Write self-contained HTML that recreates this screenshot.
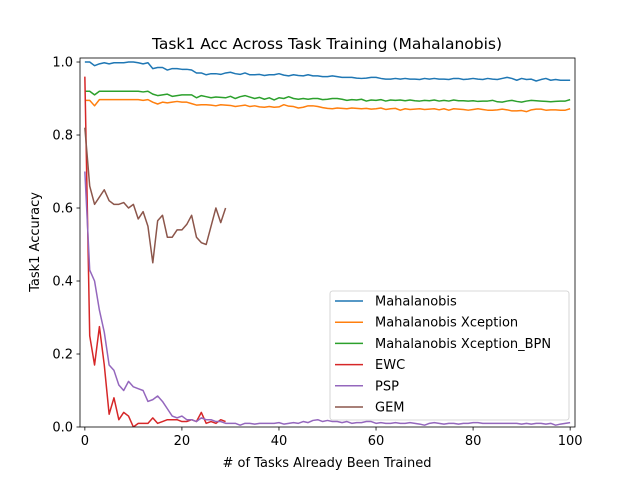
<!DOCTYPE html>
<html><head><meta charset="utf-8"><style>body{margin:0;background:#fff}svg text{font-family:"DejaVu Sans","Liberation Sans",sans-serif}</style></head><body>
<svg id="c" width="640" height="480"></svg>
<script>
const mahal=[1.0,1.0,0.99,0.995,0.998,0.995,0.998,0.998,0.998,1.0,1.0,0.998,0.995,0.998,0.982,0.985,0.985,0.978,0.982,0.982,0.98,0.98,0.978,0.97,0.97,0.965,0.968,0.968,0.966,0.97,0.972,0.968,0.966,0.97,0.965,0.965,0.966,0.963,0.965,0.965,0.968,0.964,0.962,0.965,0.963,0.962,0.965,0.962,0.962,0.96,0.96,0.962,0.96,0.958,0.958,0.958,0.956,0.955,0.956,0.958,0.958,0.955,0.953,0.953,0.955,0.953,0.955,0.953,0.953,0.952,0.955,0.953,0.955,0.953,0.953,0.952,0.955,0.955,0.952,0.953,0.955,0.953,0.952,0.955,0.953,0.952,0.955,0.958,0.955,0.95,0.955,0.952,0.953,0.948,0.952,0.955,0.95,0.952,0.95,0.95,0.95];
const xcep=[0.895,0.895,0.88,0.897,0.897,0.897,0.897,0.897,0.897,0.897,0.897,0.897,0.895,0.897,0.89,0.885,0.89,0.888,0.89,0.892,0.89,0.89,0.886,0.882,0.883,0.883,0.882,0.88,0.883,0.882,0.881,0.878,0.88,0.882,0.878,0.88,0.877,0.876,0.878,0.876,0.877,0.883,0.879,0.878,0.874,0.876,0.88,0.88,0.878,0.875,0.873,0.872,0.874,0.873,0.872,0.874,0.873,0.872,0.873,0.871,0.872,0.874,0.87,0.872,0.873,0.868,0.872,0.87,0.871,0.872,0.87,0.871,0.872,0.869,0.872,0.868,0.872,0.871,0.87,0.868,0.87,0.872,0.87,0.868,0.868,0.869,0.871,0.869,0.866,0.866,0.867,0.864,0.869,0.871,0.871,0.868,0.869,0.869,0.868,0.868,0.872];
const bpn=[0.92,0.92,0.91,0.92,0.92,0.92,0.92,0.92,0.92,0.92,0.92,0.92,0.918,0.92,0.912,0.908,0.91,0.912,0.906,0.908,0.91,0.91,0.91,0.902,0.908,0.905,0.902,0.904,0.903,0.902,0.906,0.9,0.905,0.908,0.904,0.9,0.903,0.898,0.902,0.896,0.902,0.9,0.905,0.9,0.898,0.9,0.898,0.9,0.9,0.897,0.898,0.9,0.9,0.898,0.895,0.897,0.896,0.898,0.893,0.896,0.895,0.897,0.893,0.896,0.895,0.896,0.894,0.896,0.894,0.893,0.895,0.894,0.896,0.893,0.895,0.893,0.896,0.894,0.894,0.893,0.894,0.892,0.893,0.893,0.895,0.891,0.89,0.893,0.895,0.892,0.89,0.893,0.895,0.894,0.893,0.892,0.891,0.892,0.893,0.893,0.897];
const ewc=[0.96,0.25,0.17,0.275,0.17,0.035,0.08,0.02,0.04,0.03,0.0,0.01,0.01,0.01,0.025,0.01,0.015,0.02,0.02,0.02,0.015,0.015,0.02,0.015,0.04,0.01,0.015,0.01,0.02,0.015];
const psp=[0.7,0.43,0.4,0.32,0.26,0.17,0.155,0.115,0.1,0.125,0.11,0.105,0.1,0.07,0.075,0.085,0.07,0.05,0.03,0.025,0.03,0.02,0.02,0.015,0.025,0.02,0.02,0.015,0.015,0.01,0.01,0.01,0.005,0.01,0.01,0.008,0.01,0.01,0.01,0.01,0.012,0.008,0.01,0.012,0.01,0.015,0.012,0.018,0.02,0.015,0.018,0.015,0.015,0.012,0.015,0.01,0.012,0.012,0.015,0.015,0.01,0.012,0.01,0.01,0.012,0.01,0.01,0.012,0.01,0.008,0.005,0.01,0.012,0.01,0.008,0.01,0.01,0.008,0.01,0.01,0.012,0.012,0.01,0.01,0.01,0.01,0.01,0.01,0.01,0.01,0.008,0.01,0.008,0.01,0.01,0.008,0.01,0.005,0.008,0.01,0.012];
const gem=[0.82,0.66,0.61,0.63,0.65,0.62,0.61,0.61,0.615,0.6,0.61,0.57,0.59,0.55,0.45,0.565,0.58,0.52,0.52,0.54,0.54,0.555,0.58,0.52,0.505,0.5,0.55,0.6,0.56,0.6];
const series=[["Mahalanobis",mahal,"#1f77b4"],["Mahalanobis Xception",xcep,"#ff7f0e"],["Mahalanobis Xception_BPN",bpn,"#2ca02c"],["EWC",ewc,"#d62728"],["PSP",psp,"#9467bd"],["GEM",gem,"#8c564b"]];
const xTicks=[0,20,40,60,80,100];
const yTicks=[0,0.2,0.4,0.6,0.8,1.0];
const L=80,R=575,T=58,B=427,x0=-1,x1=101,y0=0,y1=1.011;
const sx=v=>L+(v-x0)/(x1-x0)*(R-L), sy=v=>B-(v-y0)/(y1-y0)*(B-T);
const svg=document.getElementById('c'),NS='http://www.w3.org/2000/svg';
function mk(t,a,p){const e=document.createElementNS(NS,t);for(const k in a)e.setAttribute(k,a[k]);(p||svg).appendChild(e);return e;}
const clip=mk('clipPath',{id:'cp'});mk('rect',{x:L,y:T,width:R-L,height:B-T},clip);
const g=mk('g',{'clip-path':'url(#cp)'});
series.forEach(s=>{const p=mk('polyline',{points:s[1].map((v,i)=>sx(i)+','+sy(v)).join(' '),fill:'none',stroke:s[2],'stroke-width':1.5,'stroke-linejoin':'round'},g);

});
const fr=mk('rect',{x:L,y:T,width:R-L,height:B-T,fill:'none',stroke:'#000','stroke-width':0.8});

xTicks.forEach(v=>{mk('line',{x1:sx(v),x2:sx(v),y1:B,y2:B+3.5,stroke:'#000','stroke-width':0.8});const t=mk('text',{x:sx(v),y:B+18,'text-anchor':'middle','font-size':13});t.textContent=v;
});
yTicks.forEach(v=>{mk('line',{x1:L-3.5,x2:L,y1:sy(v),y2:sy(v),stroke:'#000','stroke-width':0.8});const t=mk('text',{x:L-7,y:sy(v)+4.5,'text-anchor':'end','font-size':13});t.textContent=v.toFixed(1);
});
let t=mk('text',{x:327,y:49,'text-anchor':'middle','font-size':15.5});t.textContent='Task1 Acc Across Task Training (Mahalanobis)';

t=mk('text',{x:327,y:467,'text-anchor':'middle','font-size':13});t.textContent='# of Tasks Already Been Trained';

t=mk('text',{x:39,y:242,'text-anchor':'middle','font-size':13,transform:'rotate(-90 39 242)'});t.textContent='Task1 Accuracy';

const lg=mk('g',{});
mk('rect',{x:330,y:291,width:239,height:129,rx:2.5,fill:'#fff','fill-opacity':0.8,stroke:'#ccc','stroke-width':0.8},lg);
series.forEach((s,i)=>{const y=301+i*21.2;mk('line',{x1:335,x2:363,y1:y,y2:y,stroke:s[2],'stroke-width':1.5},lg);
const tt=mk('text',{x:375,y:y+4.5,'font-size':13},lg);tt.textContent=s[0];
});
</script></body></html>
